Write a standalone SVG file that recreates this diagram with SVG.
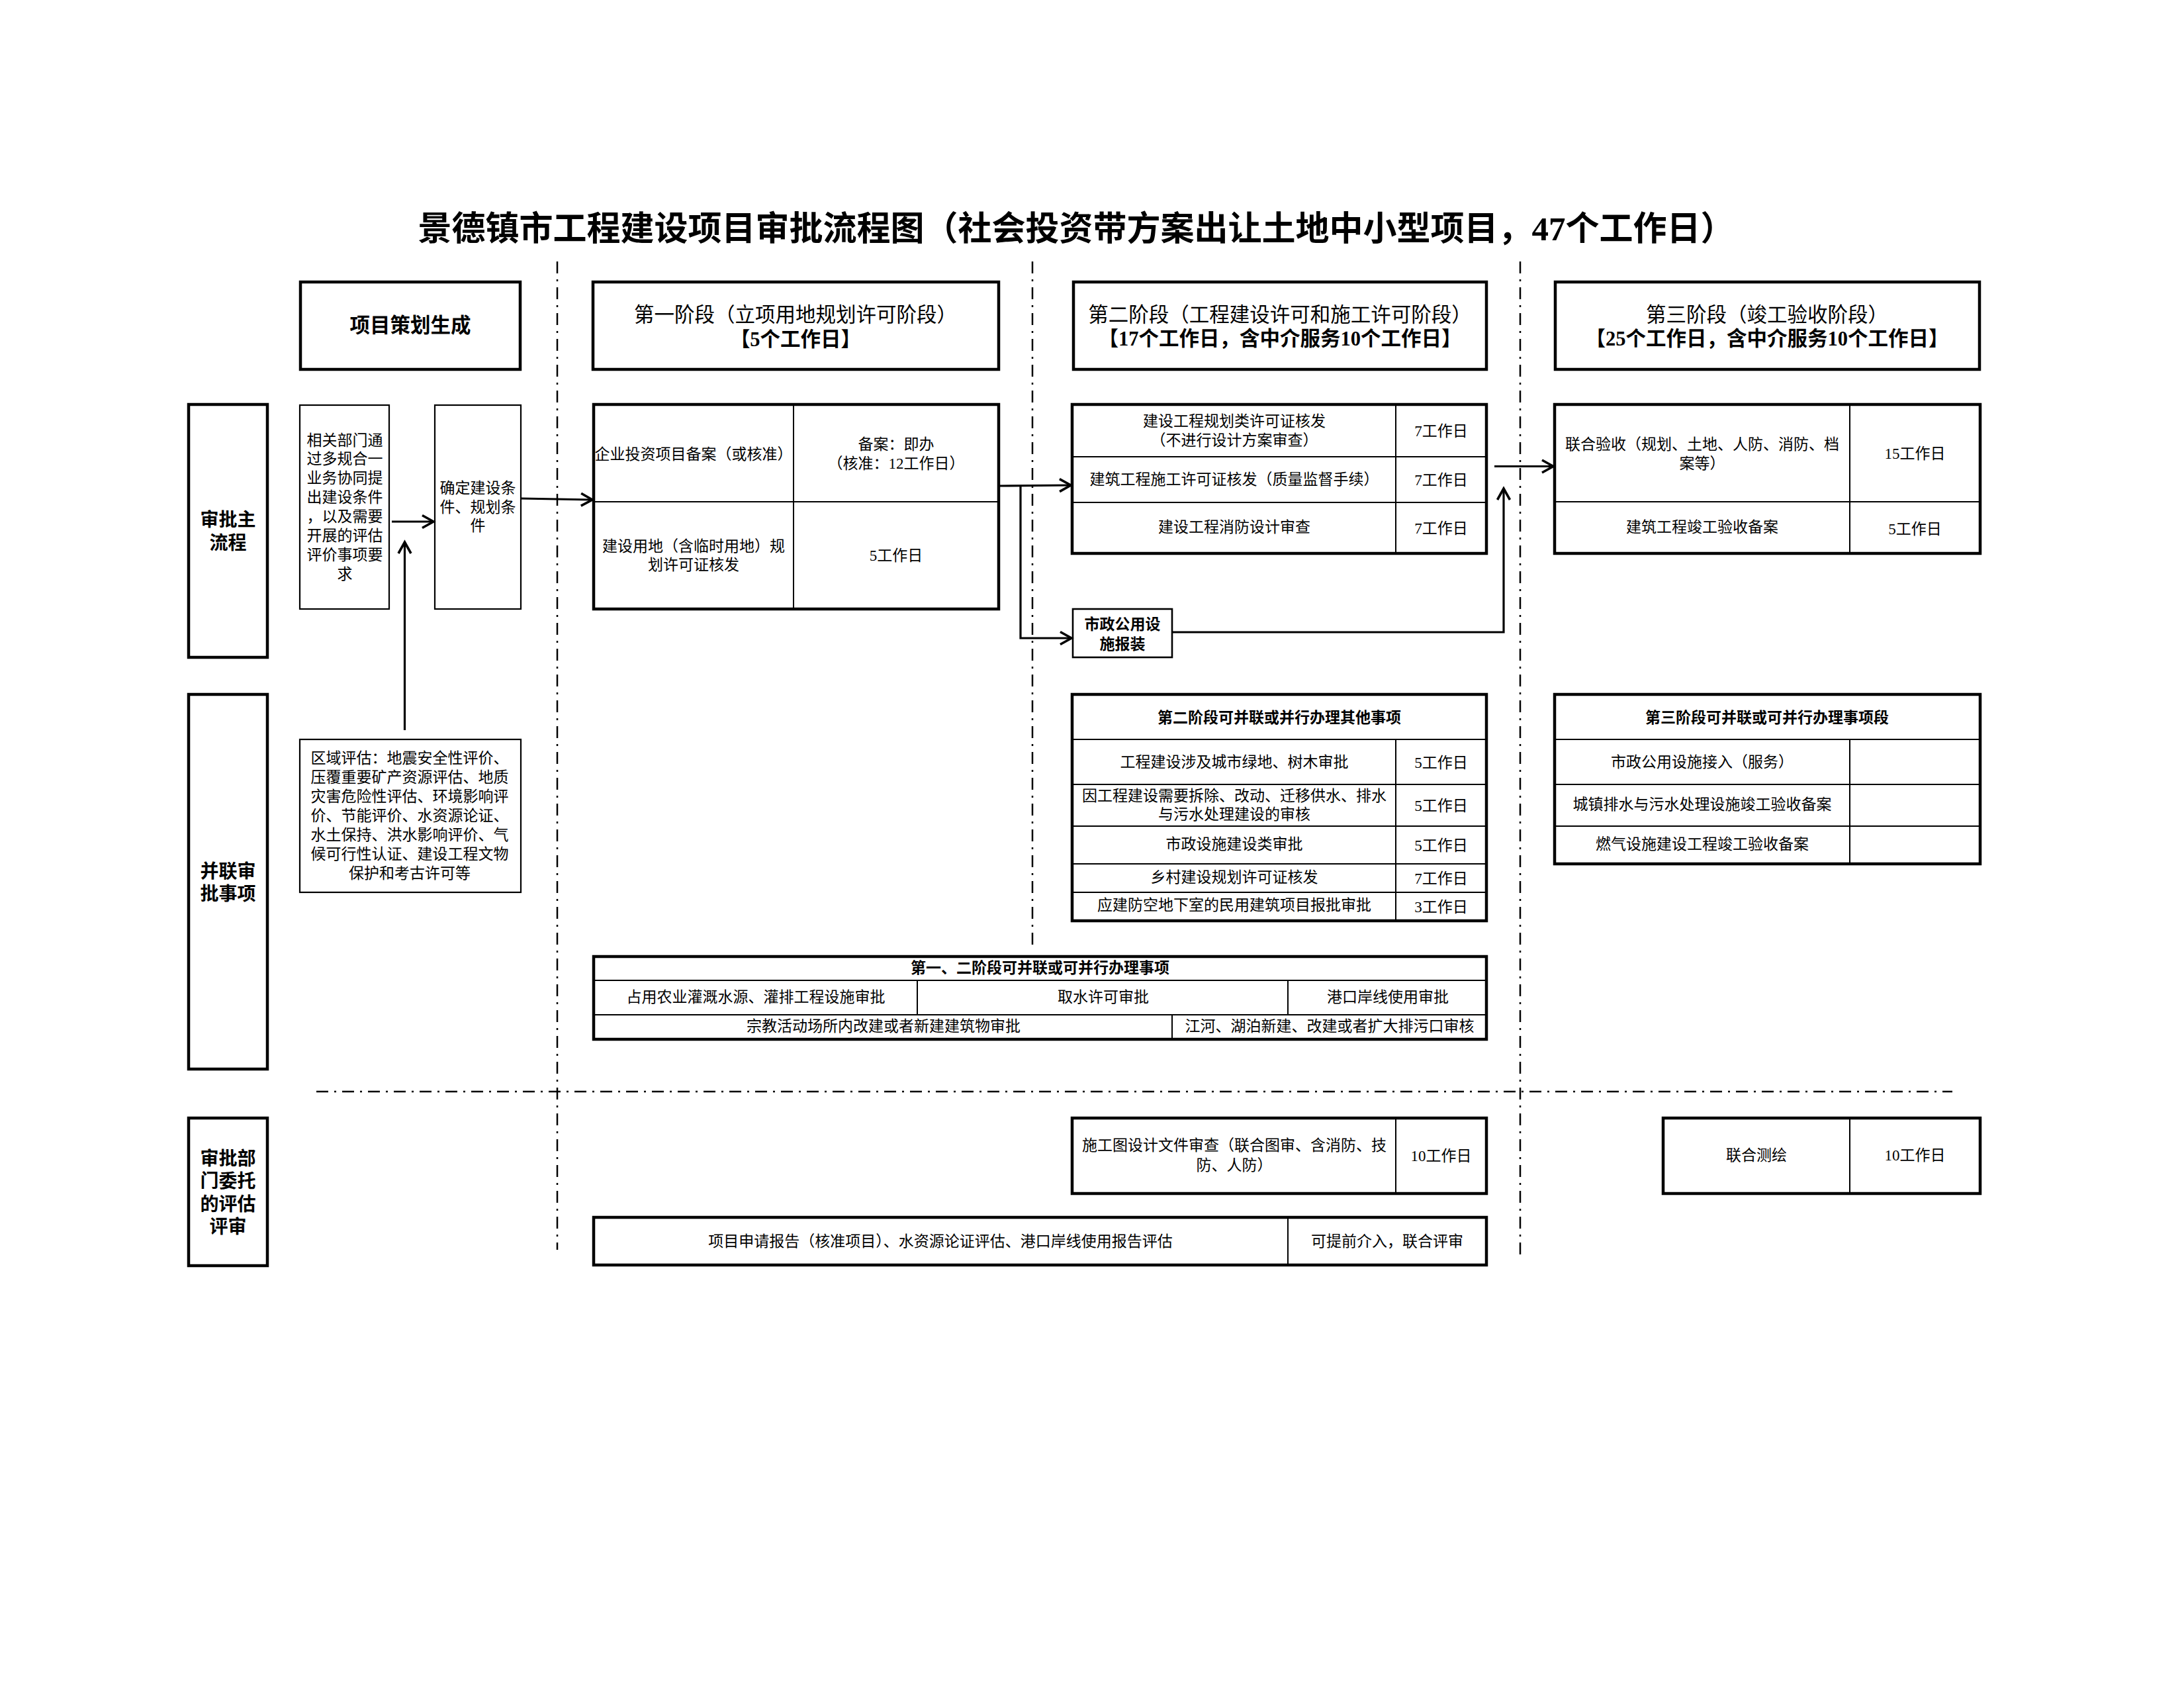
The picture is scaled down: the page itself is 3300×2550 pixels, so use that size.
<svg xmlns="http://www.w3.org/2000/svg" width="3300" height="2550" viewBox="0 0 3300 2550">
<style>
text{font-family:"Liberation Serif","Noto Sans CJK SC",serif;text-anchor:middle;dominant-baseline:central;fill:#000}
.t{font-size:23px}
.b{font-weight:bold}
.h{font-size:30.5px}
.lane{font-size:28px;font-weight:bold}
.title{font-size:51px;font-weight:bold}
.k{fill:#fff;stroke:#000;stroke-width:4.5}
.m{fill:#fff;stroke:#000;stroke-width:2.2}
.d{fill:none;stroke:#000;stroke-width:2}
.g{fill:none;stroke:#000;stroke-width:2.5;stroke-dasharray:18 9 3 9}
.c{fill:none;stroke:#000;stroke-width:3.2}
</style>
<defs>
<marker id="arr" markerUnits="userSpaceOnUse" markerWidth="30" markerHeight="30" viewBox="-22 -15 30 30" refX="0" refY="0" orient="auto" overflow="visible">
<path d="M-17,-9.5 L0,0 L-17,9.5" fill="none" stroke="#000" stroke-width="3.6"/>
</marker>
</defs>
<rect width="3300" height="2550" fill="#fff"/>
<text class="title" x="1626" y="346">景德镇市工程建设项目审批流程图（社会投资带方案出让土地中小型项目，47个工作日）</text>

<g id="guides">
<path class="g" d="M842,395 V1888"/>
<path class="g" d="M1560,395 V1430"/>
<path class="g" d="M2297,395 V1896"/>
<path class="g" d="M478,1649 H2950"/>
</g>

<g id="hdr-plan">
<rect class="k" x="454" y="426" width="332" height="132"/>
<text class="h b" x="620" y="492">项目策划生成</text>
</g>
<g id="hdr-s1">
<rect class="k" x="896" y="426" width="613" height="132"/>
<text class="h" x="1202" y="476">第一阶段（立项用地规划许可阶段）</text>
<text class="h b" x="1202" y="513">【5个工作日】</text>
</g>
<g id="hdr-s2">
<rect class="k" x="1622" y="426" width="624" height="132"/>
<text class="h" x="1934" y="476">第二阶段（工程建设许可和施工许可阶段）</text>
<text class="h b" x="1934" y="512">【17个工作日，含中介服务10个工作日】</text>
</g>
<g id="hdr-s3">
<rect class="k" x="2350" y="426" width="641" height="132"/>
<text class="h" x="2670" y="476">第三阶段（竣工验收阶段）</text>
<text class="h b" x="2670" y="512">【25个工作日，含中介服务10个工作日】</text>
</g>

<g id="lane-main">
<rect class="k" x="285" y="611" width="119" height="382"/>
<text class="lane" x="344.5" y="785">审批主</text>
<text class="lane" x="344.5" y="820">流程</text>
</g>
<g id="lane-parallel">
<rect class="k" x="285" y="1049" width="119" height="566"/>
<text class="lane" x="344.5" y="1316">并联审</text>
<text class="lane" x="344.5" y="1350">批事项</text>
</g>
<g id="lane-eval">
<rect class="k" x="285" y="1689" width="119" height="223"/>
<text class="lane" x="344.5" y="1750">审批部</text>
<text class="lane" x="344.5" y="1784">门委托</text>
<text class="lane" x="344.5" y="1819">的评估</text>
<text class="lane" x="344.5" y="1853">评审</text>
</g>

<g id="n-requirements">
<rect class="m" x="453" y="612" width="135" height="308"/>
<text class="t" x="521" y="665">相关部门通</text>
<text class="t" x="521" y="693.5">过多规合一</text>
<text class="t" x="521" y="722">业务协同提</text>
<text class="t" x="521" y="751">出建设条件</text>
<text class="t" x="521" y="780">，以及需要</text>
<text class="t" x="521" y="809">开展的评估</text>
<text class="t" x="521" y="838">评价事项要</text>
<text class="t" x="521" y="867">求</text>
</g>
<g id="n-confirm">
<rect class="m" x="657" y="612" width="130" height="308"/>
<text class="t" x="722" y="737">确定建设条</text>
<text class="t" x="722" y="766">件、规划条</text>
<text class="t" x="722" y="794">件</text>
</g>
<g id="n-regional">
<rect class="m" x="453" y="1117" width="334" height="231"/>
<text class="t" x="619" y="1145">区域评估：地震安全性评价、</text>
<text class="t" x="619" y="1174">压覆重要矿产资源评估、地质</text>
<text class="t" x="619" y="1203">灾害危险性评估、环境影响评</text>
<text class="t" x="619" y="1232">价、节能评价、水资源论证、</text>
<text class="t" x="619" y="1261">水土保持、洪水影响评价、气</text>
<text class="t" x="619" y="1290">候可行性认证、建设工程文物</text>
<text class="t" x="619" y="1319">保护和考古许可等</text>
</g>

<g id="s1-main">
<rect class="k" x="897" y="611" width="612" height="309"/>
<path class="d" d="M1199,611 V920 M897,758 H1509"/>
<text class="t" x="1048" y="686">企业投资项目备案（或核准）</text>
<text class="t" x="1354" y="671.5">备案：即办</text>
<text class="t" x="1354" y="700">（核准：12工作日）</text>
<text class="t" x="1048" y="825">建设用地（含临时用地）规</text>
<text class="t" x="1048" y="853">划许可证核发</text>
<text class="t" x="1354" y="839">5工作日</text>
</g>

<g id="s2-main">
<rect class="k" x="1620" y="611" width="626" height="225"/>
<path class="d" d="M2109,611 V836 M1620,690 H2246 M1620,759 H2246"/>
<text class="t" x="1865" y="636.5">建设工程规划类许可证核发</text>
<text class="t" x="1865" y="665">（不进行设计方案审查）</text>
<text class="t" x="2177.5" y="651">7工作日</text>
<text class="t" x="1865" y="724">建筑工程施工许可证核发（质量监督手续）</text>
<text class="t" x="2177.5" y="725">7工作日</text>
<text class="t" x="1865" y="796">建设工程消防设计审查</text>
<text class="t" x="2177.5" y="798">7工作日</text>
</g>

<g id="municipal">
<rect class="m" x="1621" y="920" width="150" height="73" style="stroke-width:2.6"/>
<text class="t b" x="1696" y="943.5">市政公用设</text>
<text class="t b" x="1696" y="973">施报装</text>
</g>

<g id="s3-main">
<rect class="k" x="2349" y="611" width="643" height="225"/>
<path class="d" d="M2795,611 V836 M2349,758 H2992"/>
<text class="t" x="2572" y="671.5">联合验收（规划、土地、人防、消防、档</text>
<text class="t" x="2572" y="700">案等）</text>
<text class="t" x="2893.5" y="685">15工作日</text>
<text class="t" x="2572" y="796">建筑工程竣工验收备案</text>
<text class="t" x="2893.5" y="799">5工作日</text>
</g>

<g id="s2-parallel">
<rect class="k" x="1620" y="1049" width="626" height="342"/>
<path class="d" d="M1620,1117 H2246 M1620,1185 H2246 M1620,1248 H2246 M1620,1305 H2246 M1620,1348 H2246 M2109,1117 V1391"/>
<text class="t b" x="1933" y="1084">第二阶段可并联或并行办理其他事项</text>
<text class="t" x="1865" y="1151.5">工程建设涉及城市绿地、树木审批</text>
<text class="t" x="2177.5" y="1152">5工作日</text>
<text class="t" x="1865" y="1202">因工程建设需要拆除、改动、迁移供水、排水</text>
<text class="t" x="1865" y="1230">与污水处理建设的审核</text>
<text class="t" x="2177.5" y="1217">5工作日</text>
<text class="t" x="1865" y="1275">市政设施建设类审批</text>
<text class="t" x="2177.5" y="1277">5工作日</text>
<text class="t" x="1865" y="1325">乡村建设规划许可证核发</text>
<text class="t" x="2177.5" y="1327">7工作日</text>
<text class="t" x="1865" y="1367">应建防空地下室的民用建筑项目报批审批</text>
<text class="t" x="2177.5" y="1370">3工作日</text>
</g>

<g id="s3-parallel">
<rect class="k" x="2349" y="1049" width="643" height="256"/>
<path class="d" d="M2349,1117 H2992 M2349,1185 H2992 M2349,1248 H2992 M2795,1117 V1305"/>
<text class="t b" x="2670" y="1084">第三阶段可并联或可并行办理事项段</text>
<text class="t" x="2572" y="1151">市政公用设施接入（服务）</text>
<text class="t" x="2572" y="1215.5">城镇排水与污水处理设施竣工验收备案</text>
<text class="t" x="2572" y="1275.5">燃气设施建设工程竣工验收备案</text>
</g>

<g id="s12-parallel">
<rect class="k" x="897" y="1445" width="1349" height="125"/>
<path class="d" d="M897,1481 H2246 M897,1533 H2246 M1386,1481 V1533 M1946,1481 V1533 M1771,1533 V1570"/>
<text class="t b" x="1571.5" y="1462">第一、二阶段可并联或可并行办理事项</text>
<text class="t" x="1142" y="1506">占用农业灌溉水源、灌排工程设施审批</text>
<text class="t" x="1667" y="1506">取水许可审批</text>
<text class="t" x="2097" y="1506">港口岸线使用审批</text>
<text class="t" x="1335" y="1550">宗教活动场所内改建或者新建建筑物审批</text>
<text class="t" x="2009" y="1550">江河、湖泊新建、改建或者扩大排污口审核</text>
</g>

<g id="drawing-review">
<rect class="k" x="1620" y="1689" width="626" height="114"/>
<path class="d" d="M2109,1689 V1803"/>
<text class="t" x="1865" y="1730.5">施工图设计文件审查（联合图审、含消防、技</text>
<text class="t" x="1865" y="1760">防、人防）</text>
<text class="t" x="2177.5" y="1746">10工作日</text>
</g>

<g id="survey">
<rect class="k" x="2513" y="1689" width="479" height="114"/>
<path class="d" d="M2795,1689 V1803"/>
<text class="t" x="2654" y="1745">联合测绘</text>
<text class="t" x="2893.5" y="1745">10工作日</text>
</g>

<g id="app-report">
<rect class="k" x="897" y="1839" width="1349" height="72"/>
<path class="d" d="M1946,1839 V1911"/>
<text class="t" x="1421" y="1875">项目申请报告（核准项目）、水资源论证评估、港口岸线使用报告评估</text>
<text class="t" x="2096" y="1875">可提前介入，联合评审</text>
</g>

<g id="connectors">
<path class="c" d="M592,788 H655" marker-end="url(#arr)"/>
<path class="c" d="M611.5,1103 V819" marker-end="url(#arr)"/>
<path class="c" d="M787,753 L895,755" marker-end="url(#arr)"/>
<path class="c" d="M1509,734 L1618,733" marker-end="url(#arr)"/>
<path class="c" d="M1542,735 V964 H1619" marker-end="url(#arr)"/>
<path class="c" d="M1771,955 H2272 V738" marker-end="url(#arr)"/>
<path class="c" d="M2258,704.5 H2347" marker-end="url(#arr)"/>
</g>
</svg>
